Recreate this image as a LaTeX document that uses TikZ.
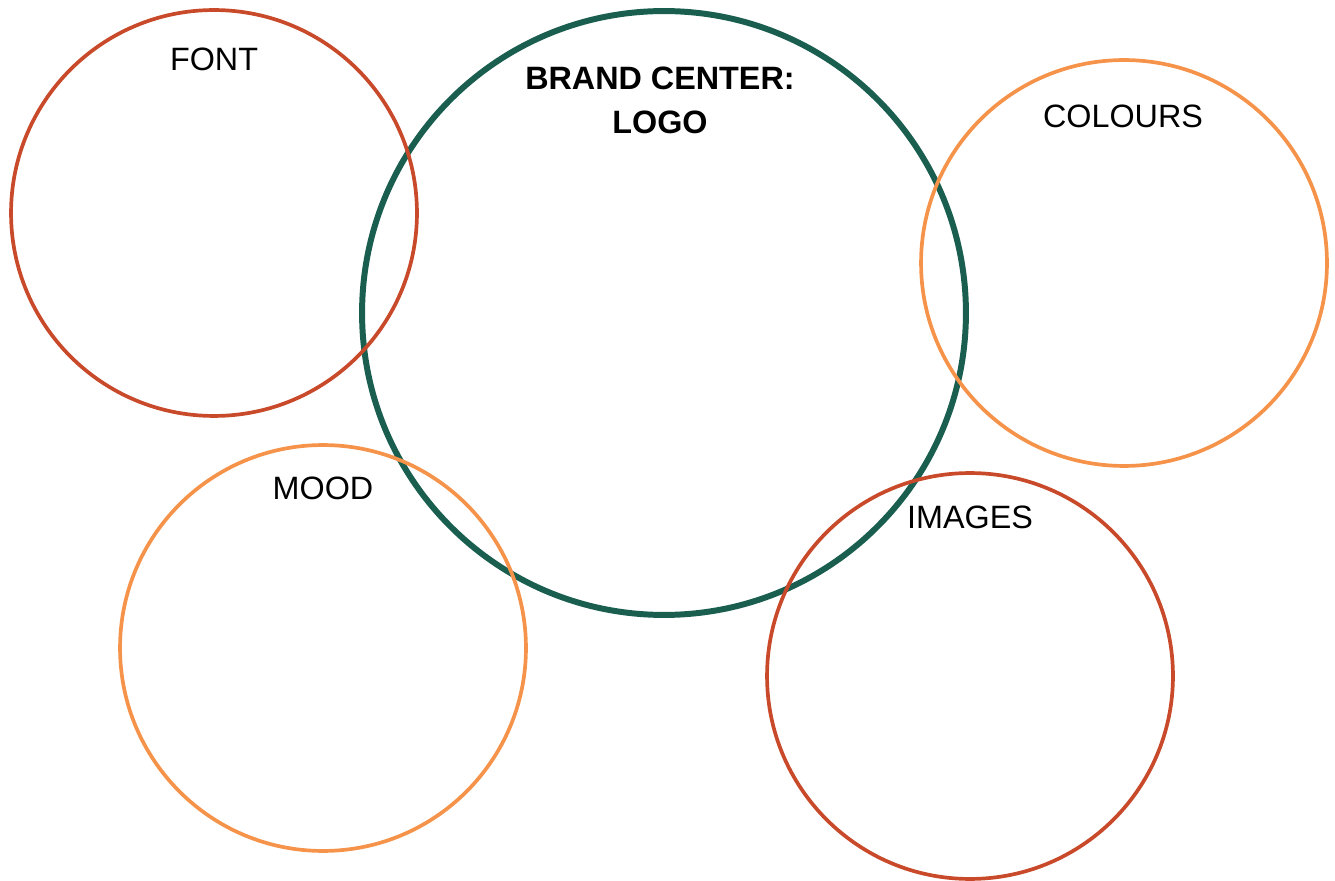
\documentclass[tikz,border=0pt]{standalone}
\usepackage{fontspec}
\setmainfont{Liberation Sans}
\definecolor{brandgreen}{HTML}{1A5E4F}
\definecolor{rust}{HTML}{C94A2A}
\definecolor{peach}{HTML}{F6934A}
\begin{document}
\begin{tikzpicture}[x=0.02cm, y=-0.02cm, every node/.style={font=\fontsize{18.4}{25}\selectfont, align=center},
                    ring/.style={draw, circle, line width=2.1pt, minimum size=8.12cm, inner sep=0pt}]
              \useasboundingbox (0,0) rectangle (1335,881);
              % the five circles
              \node[ring, draw=brandgreen, line width=3.4pt, minimum size=12.08cm] (logo) at (664,313) {};
              \node[ring, draw=rust] (font) at (214,213) {};
              \node[ring, draw=peach] (colours) at (1124,263) {};
              \node[ring, draw=peach] (mood) at (323,648) {};
              \node[ring, draw=rust] (images) at (970,676) {};
              % labels
              \node (logot) at (660,100) {\bfseries BRAND CENTER:\\\bfseries LOGO};
              \node (fontt) at (214,59) {FONT};
              \node (colourst) at (1123,116) {COLOURS};
              \node (moodt) at (323,488) {MOOD};
              \node (imagest) at (970,517) {IMAGES};
          \end{tikzpicture}
\end{document}
